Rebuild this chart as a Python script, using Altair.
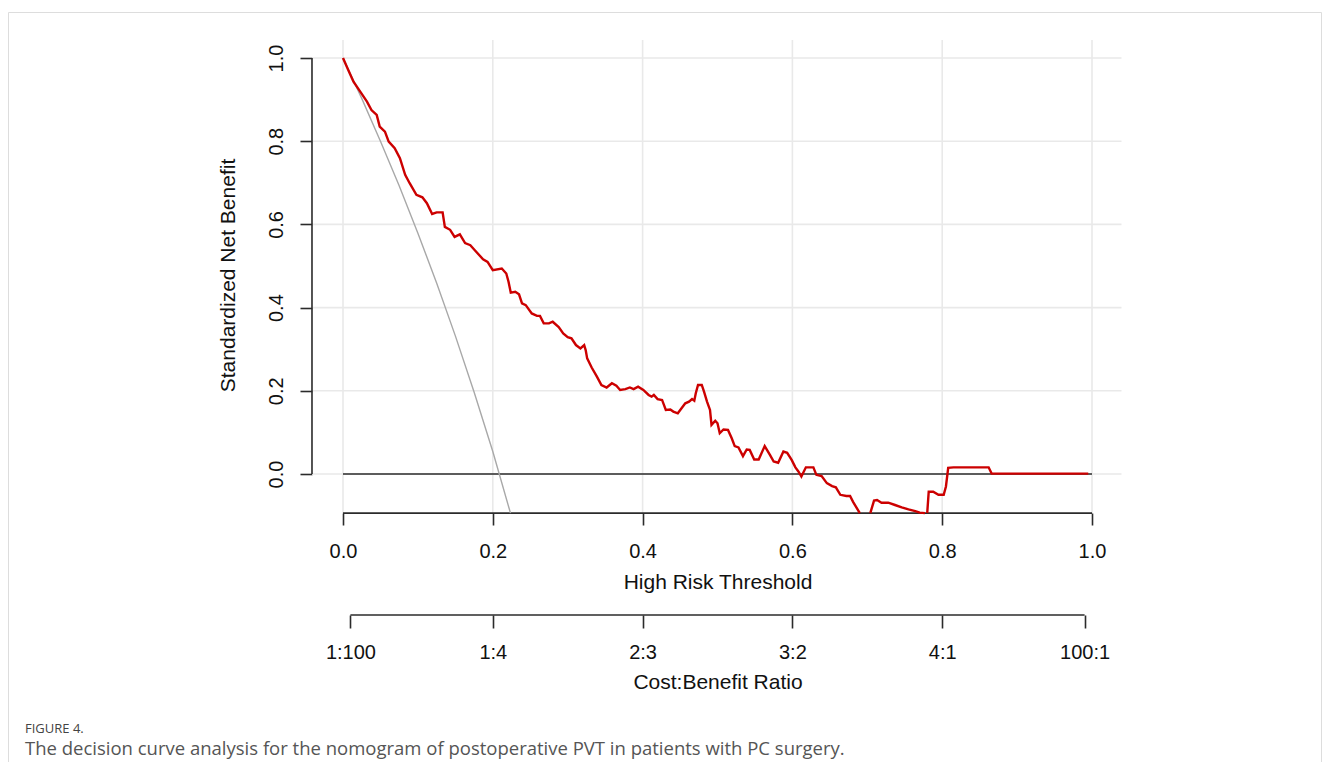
import altair as alt
import pandas as pd

# ---------------- data ----------------
red_x = [0.000, 0.007, 0.014, 0.023, 0.032, 0.038, 0.045, 0.049, 0.056, 0.061,
         0.069, 0.076, 0.083, 0.089, 0.098, 0.106, 0.112, 0.119, 0.125, 0.133,
         0.136, 0.143, 0.149, 0.156, 0.163, 0.170, 0.176, 0.187, 0.193, 0.200,
         0.212, 0.218, 0.221, 0.224, 0.230, 0.235, 0.239, 0.244, 0.252, 0.259,
         0.263, 0.268, 0.275, 0.280, 0.288, 0.294, 0.300, 0.305, 0.311, 0.317,
         0.322, 0.324, 0.326, 0.332, 0.339, 0.345, 0.352, 0.359, 0.365, 0.370,
         0.377, 0.383, 0.388, 0.394, 0.401, 0.408, 0.412, 0.415, 0.420, 0.426,
         0.431, 0.437, 0.441, 0.447, 0.452, 0.457, 0.462, 0.466, 0.469, 0.471,
         0.474, 0.479, 0.482, 0.486, 0.490, 0.492, 0.497, 0.500, 0.503, 0.508,
         0.514, 0.519, 0.523, 0.528, 0.534, 0.539, 0.543, 0.549, 0.555, 0.563,
         0.570, 0.575, 0.581, 0.588, 0.593, 0.599, 0.604, 0.608, 0.612, 0.618,
         0.628, 0.632, 0.639, 0.646, 0.653, 0.658, 0.664, 0.672, 0.677, 0.681,
         0.690,
         0.704, 0.709, 0.713, 0.719, 0.728, 0.737, 0.746, 0.755, 0.764, 0.770,
         0.777,
         0.780, 0.782, 0.788, 0.795, 0.802, 0.805, 0.808, 0.815, 0.862, 0.866,
         0.995]
red_y = [1.000, 0.971, 0.943, 0.919, 0.895, 0.875, 0.863, 0.835, 0.823, 0.799,
         0.783, 0.759, 0.719, 0.699, 0.671, 0.665, 0.651, 0.625, 0.629, 0.629,
         0.594, 0.587, 0.570, 0.576, 0.555, 0.550, 0.538, 0.516, 0.510, 0.490,
         0.494, 0.482, 0.462, 0.436, 0.438, 0.432, 0.410, 0.406, 0.386, 0.380,
         0.380, 0.362, 0.362, 0.366, 0.353, 0.338, 0.329, 0.326, 0.310, 0.302,
         0.310, 0.298, 0.278, 0.256, 0.234, 0.214, 0.208, 0.218, 0.212, 0.202,
         0.204, 0.208, 0.204, 0.210, 0.202, 0.190, 0.186, 0.190, 0.180, 0.178,
         0.154, 0.155, 0.150, 0.146, 0.158, 0.170, 0.174, 0.180, 0.176, 0.194,
         0.214, 0.214, 0.198, 0.174, 0.154, 0.118, 0.128, 0.122, 0.098, 0.107,
         0.106, 0.086, 0.067, 0.064, 0.043, 0.059, 0.058, 0.035, 0.035, 0.067,
         0.046, 0.030, 0.027, 0.054, 0.051, 0.034, 0.016, 0.006, -0.006, 0.016,
         0.016, -0.002, -0.005, -0.022, -0.029, -0.032, -0.050, -0.053, -0.053, -0.067,
         -0.094,
         -0.094, -0.064, -0.0625, -0.069, -0.069, -0.0745, -0.080, -0.085, -0.089, -0.093,
         -0.094,
         -0.094, -0.0425, -0.0425, -0.050, -0.050, -0.030, 0.015, 0.016, 0.016, 0.001,
         0.001]
red_seg = [1] * 121 + [2] * 11 + [3] * 11

all_x = [0.0, 0.025, 0.05, 0.075, 0.1, 0.125, 0.15, 0.175, 0.2, 0.2236]
all_y = [1.0, 0.903, 0.80, 0.693, 0.579, 0.459, 0.332, 0.197, 0.054, -0.094]

x_ticks = [0.0, 0.2, 0.4, 0.6, 0.8, 1.0]
y_ticks = [0.0, 0.2, 0.4, 0.6, 0.8, 1.0]
cb_ticks = [0.0099, 0.2, 0.4, 0.6, 0.8, 0.9901]
cb_labels = ["1:100", "1:4", "2:3", "3:2", "4:1", "100:1"]

# ---------------- layout / style ----------------
W, H = 1313, 780
XL, XR = -0.0414, 1.0394      # plot region (data units)
YB, YT = -0.094, 1.0433
YCB = -0.3389                 # cost:benefit axis line
FONT = "Liberation Sans"
AX = "#2b2b2b"
GRID = "#e9e9e9"

xs = alt.Scale(domain=[0, 1], range=[335, 1084], nice=False, zero=False)
ys = alt.Scale(domain=[0, 1], range=[462, 46], nice=False, zero=False)

one = pd.DataFrame({"a": [0]})

grid_v = alt.Chart(pd.DataFrame({"gx": x_ticks})).mark_rule(
    color=GRID, strokeWidth=1.6).encode(
    x=alt.X("gx:Q", scale=xs, axis=None),
    y=alt.Y(datum=YB, type="quantitative", scale=ys, axis=None),
    y2=alt.Y2(datum=YT))

grid_h = alt.Chart(pd.DataFrame({"gy": y_ticks})).mark_rule(
    color=GRID, strokeWidth=1.6).encode(
    y=alt.Y("gy:Q", scale=ys, axis=None),
    x=alt.X(datum=XL, type="quantitative", scale=xs, axis=None),
    x2=alt.X2(datum=XR))

x_line = alt.Chart(one).mark_rule(color=AX, strokeWidth=1.6).encode(
    x=alt.X(datum=0, type="quantitative", scale=xs, axis=None),
    x2=alt.X2(datum=1),
    y=alt.Y(datum=YB, type="quantitative", scale=ys, axis=None))

y_line = alt.Chart(one).mark_rule(color=AX, strokeWidth=1.6).encode(
    x=alt.X(datum=XL, type="quantitative", scale=xs, axis=None),
    y=alt.Y(datum=0, type="quantitative", scale=ys, axis=None),
    y2=alt.Y2(datum=1))

label_expr = "''"
for v, l in reversed(list(zip(cb_ticks, cb_labels))):
    label_expr = f"abs(datum.value - {v}) < 0.001 ? '{l}' : {label_expr}"

cb_line = alt.Chart(one).mark_rule(color=AX, strokeWidth=1.6).encode(
    x=alt.X(datum=cb_ticks[0], type="quantitative", scale=xs,
            axis=alt.Axis(orient="bottom", offset=603 - H, values=cb_ticks,
                          labelExpr=label_expr, domain=False, grid=False,
                          tickSize=13, tickWidth=1.6, tickColor=AX,
                          labelFont=FONT, labelFontSize=20, labelColor="#111",
                          labelPadding=14, labelBaseline="top", labelAlign="center",
                          labelOverlap=False, labelFlush=False,
                          title="Cost:Benefit Ratio", titleFont=FONT,
                          titleFontSize=21, titleFontWeight="normal",
                          titleColor="#111", titlePadding=9)),
    x2=alt.X2(datum=cb_ticks[-1]),
    y=alt.Y(datum=YCB, type="quantitative", scale=ys, axis=None))

none_line = alt.Chart(one).mark_rule(color=AX, strokeWidth=1.5).encode(
    x=alt.X(datum=0, type="quantitative", scale=xs, axis=None),
    x2=alt.X2(datum=1),
    y=alt.Y(datum=0, type="quantitative", scale=ys, axis=None))

df_all = pd.DataFrame({"t": all_x, "nb": all_y})
all_line = alt.Chart(df_all).mark_line(color="#a8a8a8", strokeWidth=1.4).encode(
    x=alt.X("t:Q", scale=xs,
            axis=alt.Axis(orient="bottom", offset=501 - H, values=x_ticks,
                          format=".1f", domain=False, grid=False,
                          tickSize=12, tickWidth=1.6, tickColor=AX,
                          labelFont=FONT, labelFontSize=20, labelColor="#111",
                          labelPadding=16, labelBaseline="top", labelAlign="center",
                          labelOverlap=False, labelFlush=False,
                          title="High Risk Threshold", titleFont=FONT,
                          titleFontSize=21, titleFontWeight="normal",
                          titleColor="#111", titlePadding=10)),
    y=alt.Y("nb:Q", scale=ys,
            axis=alt.Axis(orient="left", offset=-304, values=y_ticks,
                          format=".1f", domain=False, grid=False,
                          tickSize=12, tickWidth=1.6, tickColor=AX,
                          labelFont=FONT, labelFontSize=20, labelColor="#111",
                          labelAngle=270, labelAlign="center",
                          labelBaseline="bottom", labelPadding=14,
                          labelOverlap=False, labelFlush=False,
                          title="Standardized Net Benefit", titleFont=FONT,
                          titleFontSize=21, titleFontWeight="normal",
                          titleColor="#111", titleAngle=270,
                          titleBaseline="bottom", titlePadding=28, titleY=263)),
    order=alt.Order("t:Q"))

df_red = pd.DataFrame({"t": red_x, "nb": red_y, "seg": red_seg})
red_line = alt.Chart(df_red).mark_line(color="#cc0000", strokeWidth=2.4).encode(
    x=alt.X("t:Q", scale=xs, axis=None),
    y=alt.Y("nb:Q", scale=ys, axis=None),
    detail="seg:N",
    order=alt.Order("t:Q"))

chart = alt.layer(
    grid_v, grid_h, x_line, y_line, cb_line, none_line, all_line, red_line
).resolve_axis(x="independent", y="independent").properties(
    width=W, height=H,
    autosize=alt.AutoSizeParams(type="none"),
    padding={"left": 0, "top": 4, "right": 1, "bottom": -30},
    title=alt.TitleParams(
        text="FIGURE 4.",
        subtitle="The decision curve analysis for the nomogram of postoperative PVT in patients with PC surgery.",
        orient="bottom", anchor="start", frame="group", offset=-69, dx=17,
        font="Open Sans", fontSize=13, fontWeight="normal", color="#444444",
        subtitleFont="Open Sans", subtitleFontSize=18.5, subtitleColor="#555555",
        subtitlePadding=4),
).configure_view(stroke="#9a9a9a", strokeWidth=1).configure(background="white")

chart.save("out.html", embed_options={"renderer": "svg", "actions": False})
